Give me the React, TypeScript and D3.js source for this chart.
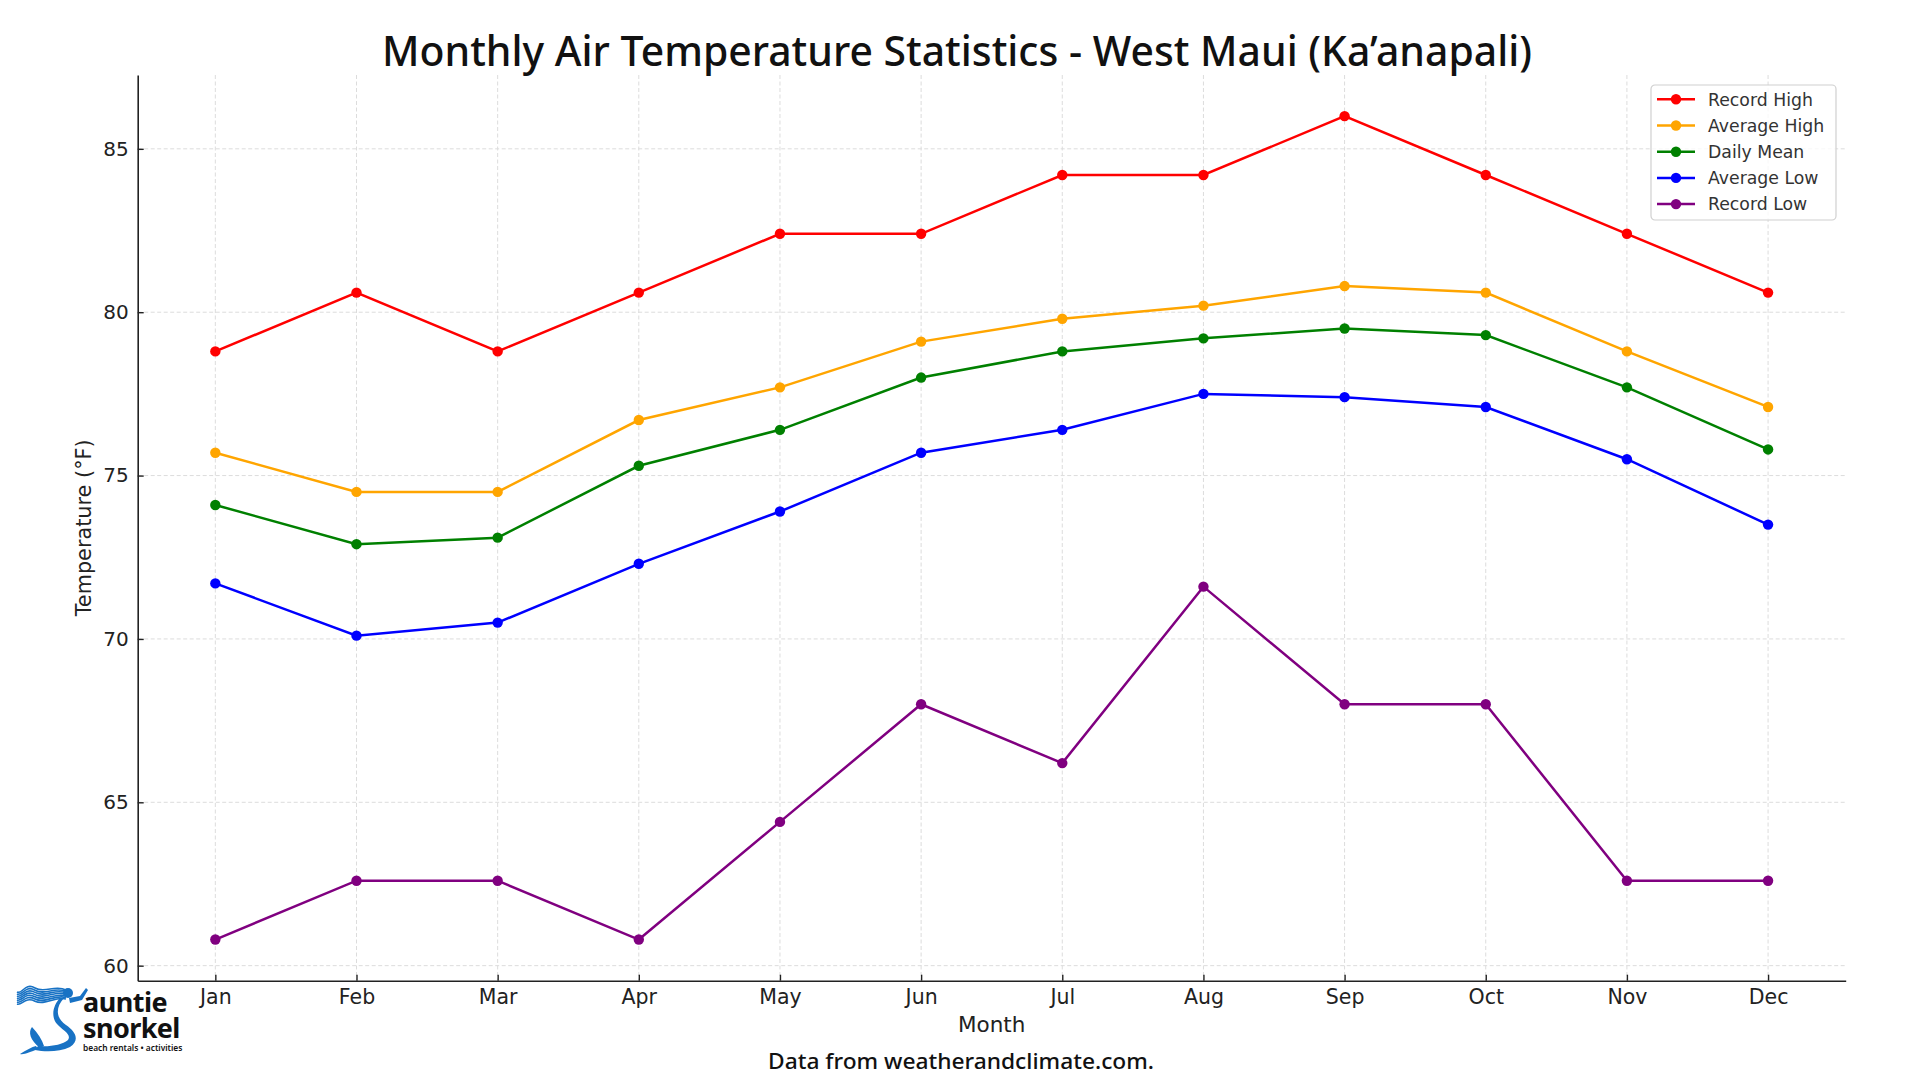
import * as d3 from 'd3'
import { useEffect, useRef } from 'react'

// monthly values in °F
const months = ['Jan', 'Feb', 'Mar', 'Apr', 'May', 'Jun', 'Jul', 'Aug', 'Sep', 'Oct', 'Nov', 'Dec']
const recordHigh = [78.8, 80.6, 78.8, 80.6, 82.4, 82.4, 84.2, 84.2, 86.0, 84.2, 82.4, 80.6]
const averageHigh = [75.7, 74.5, 74.5, 76.7, 77.7, 79.1, 79.8, 80.2, 80.8, 80.6, 78.8, 77.1]
const dailyMean = [74.1, 72.9, 73.1, 75.3, 76.4, 78.0, 78.8, 79.2, 79.5, 79.3, 77.7, 75.8]
const averageLow = [71.7, 70.1, 70.5, 72.3, 73.9, 75.7, 76.4, 77.5, 77.4, 77.1, 75.5, 73.5]
const recordLow = [60.8, 62.6, 62.6, 60.8, 64.4, 68.0, 66.2, 71.6, 68.0, 68.0, 62.6, 62.6]
const yTicks = [60, 65, 70, 75, 80, 85]
const seriesNames = ['Record High', 'Average High', 'Daily Mean', 'Average Low', 'Record Low']

const colors = ['#ff0000', '#ffa500', '#008000', '#0000ff', '#800080']

const width = 1920
const height = 1080
const margin = { top: 75, left: 137.7, right: 74.3, bottom: 99.3 }
const tickFont = 'DejaVu Sans, sans-serif'

const App = () => {
  const svgRef = useRef<SVGSVGElement>(null)

  useEffect(() => {
    const svg = d3.select(svgRef.current)
    svg.selectAll('*').remove()

    const series = [recordHigh, averageHigh, dailyMean, averageLow, recordLow].map((values, i) => ({
      name: seriesNames[i],
      values,
      color: colors[i],
    }))

    const all = series.flatMap((s) => s.values)
    const [minV, maxV] = d3.extent(all) as number[]
    const pad = (maxV - minV) * 0.05

    // matplotlib style 5% margins
    const xScale = d3
      .scaleLinear()
      .domain([-0.55, months.length - 1 + 0.55])
      .range([margin.left, width - margin.right])
    const yScale = d3
      .scaleLinear()
      .domain([minV - pad, maxV + pad])
      .range([height - margin.bottom, margin.top])

    const plotLeft = margin.left
    const plotRight = width - margin.right
    const plotTop = margin.top
    const plotBottom = height - margin.bottom

    // grid
    const grid = svg
      .append('g')
      .attr('stroke', '#dcdcdc')
      .attr('stroke-width', 1)
      .attr('stroke-dasharray', '4,2.5')
    grid
      .selectAll('.gx')
      .data(months.map((_, i) => i))
      .enter()
      .append('line')
      .attr('x1', (d) => xScale(d))
      .attr('x2', (d) => xScale(d))
      .attr('y1', plotTop)
      .attr('y2', plotBottom)
    grid
      .selectAll('.gy')
      .data(yTicks)
      .enter()
      .append('line')
      .attr('x1', plotLeft)
      .attr('x2', plotRight)
      .attr('y1', (d) => yScale(d))
      .attr('y2', (d) => yScale(d))

    // X axis
    const xAxis = d3
      .axisBottom(xScale)
      .tickValues(months.map((_, i) => i))
      .tickFormat((d) => months[d as number])
      .tickSizeInner(-6)
      .tickSizeOuter(0)
      .tickPadding(9)
    const gx = svg.append('g').attr('transform', `translate(0, ${plotBottom})`).call(xAxis)
    gx.select('.domain').attr('stroke', '#222').attr('stroke-width', 1.6)
    gx.selectAll('.tick line').attr('stroke', '#222').attr('stroke-width', 1.4)
    gx.selectAll('.tick text')
      .attr('font-family', tickFont)
      .attr('font-size', 20.5)
      .attr('fill', '#222')

    // Y axis
    const yAxis = d3.axisLeft(yScale).tickValues(yTicks).tickSizeInner(-6).tickSizeOuter(0).tickPadding(9)
    const gy = svg.append('g').attr('transform', `translate(${plotLeft}, 0)`).call(yAxis)
    gy.select('.domain').attr('stroke', '#222').attr('stroke-width', 1.6)
    gy.selectAll('.tick line').attr('stroke', '#222').attr('stroke-width', 1.4)
    gy.selectAll('.tick text')
      .attr('font-family', tickFont)
      .attr('font-size', 20)
      .attr('fill', '#222')

    // lines + markers
    const line = d3
      .line<number>()
      .x((_, i) => xScale(i))
      .y((d) => yScale(d))

    series.forEach((s) => {
      svg
        .append('path')
        .datum(s.values)
        .attr('d', line)
        .attr('fill', 'none')
        .attr('stroke', s.color)
        .attr('stroke-width', 2.5)
      svg
        .append('g')
        .selectAll('circle')
        .data(s.values)
        .enter()
        .append('circle')
        .attr('cx', (_, i) => xScale(i))
        .attr('cy', (d) => yScale(d))
        .attr('r', 5.2)
        .attr('fill', s.color)
    })

    // titles
    svg
      .append('text')
      .attr('x', 957)
      .attr('y', 66)
      .attr('text-anchor', 'middle')
      .attr('font-family', 'Noto Sans, sans-serif')
      .attr('font-weight', 500)
      .attr('font-size', 42)
      .attr('textLength', 1150)
      .attr('lengthAdjust', 'spacingAndGlyphs')
      .attr('fill', '#111')
      .text('Monthly Air Temperature Statistics - West Maui (Ka’anapali)')

    svg
      .append('text')
      .attr('x', (plotLeft + plotRight) / 2)
      .attr('y', 1032)
      .attr('text-anchor', 'middle')
      .attr('font-family', tickFont)
      .attr('font-size', 21.5)
      .attr('fill', '#222')
      .text('Month')

    svg
      .append('text')
      .attr('transform', `translate(91, ${(plotTop + plotBottom) / 2}) rotate(-90)`)
      .attr('text-anchor', 'middle')
      .attr('font-family', tickFont)
      .attr('font-size', 20.8)
      .attr('fill', '#222')
      .text('Temperature (°F)')

    svg
      .append('text')
      .attr('x', 961)
      .attr('y', 1069)
      .attr('text-anchor', 'middle')
      .attr('font-family', 'Noto Sans, sans-serif')
      .attr('font-weight', 500)
      .attr('font-size', 22)
      .attr('textLength', 386)
      .attr('lengthAdjust', 'spacingAndGlyphs')
      .attr('fill', '#111')
      .text('Data from weatherandclimate.com.')

    // legend
    const legend = svg.append('g').attr('transform', 'translate(1651, 85)')
    legend
      .append('rect')
      .attr('width', 185)
      .attr('height', 135)
      .attr('rx', 4)
      .attr('fill', 'white')
      .attr('fill-opacity', 0.8)
      .attr('stroke', '#d0d0d0')
      .attr('stroke-width', 1.2)
    series.forEach((s, i) => {
      const ly = 14.3 + i * 26.2
      legend
        .append('line')
        .attr('x1', 6)
        .attr('x2', 44)
        .attr('y1', ly)
        .attr('y2', ly)
        .attr('stroke', s.color)
        .attr('stroke-width', 2.5)
      legend.append('circle').attr('cx', 25).attr('cy', ly).attr('r', 5.2).attr('fill', s.color)
      legend
        .append('text')
        .attr('x', 57)
        .attr('y', ly)
        .attr('dy', '0.36em')
        .attr('font-family', tickFont)
        .attr('font-size', 17.3)
        .attr('fill', '#333')
        .text(s.name)
    })

    // logo
    const logo = svg.append('g')
    const blue = '#1872c4'
    // hair strands
    d3.range(7).forEach((k) => {
      logo
        .append('path')
        .attr(
          'd',
          `M66,${990 + k * 1.5} C55,${984 + k * 2} 45,${994 + k * 2} 35,${988 + k * 2.2} S22,${995 + k * 1.8} 17,${992 + k * 2}`
        )
        .attr('fill', 'none')
        .attr('stroke', blue)
        .attr('stroke-width', 1.6)
    })
    logo.append('circle').attr('cx', 68).attr('cy', 993).attr('r', 5).attr('fill', blue)
    logo
      .append('path')
      .attr('d', 'M69,998 L80,996 L86,988 L88,990 L82,1000 L70,1003 Z')
      .attr('fill', blue)
    logo
      .append('path')
      .attr('d', 'M64,998 C55,1008 56,1018 66,1025 C76,1032 80,1040 70,1047 C60,1052 45,1052 35,1050 L38,1046 C50,1047 62,1045 68,1040 C72,1034 62,1030 57,1024 C50,1016 54,1004 60,998 Z')
      .attr('fill', blue)
    logo
      .append('path')
      .attr('d', 'M40,1048 C30,1040 28,1032 32,1027 C38,1033 42,1040 44,1046 Z M38,1049 C30,1052 24,1055 20,1054 C26,1050 32,1047 36,1046 Z')
      .attr('fill', blue)
    // the wordmark is one text block, lines stacked tightly like the original logo
    const mark = logo
      .append('text')
      .attr('font-family', 'Noto Sans, sans-serif')
      .attr('font-weight', 700)
      .attr('fill', '#111')
    mark.append('tspan').attr('x', 83).attr('y', 1012).attr('font-size', 27).attr('letter-spacing', -0.5).text('auntie')
    mark.append('tspan').attr('x', 83).attr('y', 1038).attr('font-size', 27).attr('letter-spacing', -0.6).text('snorkel')
    mark
      .append('tspan')
      .attr('x', 83)
      .attr('y', 1051)
      .attr('font-size', 8.4)
      .attr('font-weight', 600)
      .text('beach rentals • activities')
  }, [])

  return (
    <div style={{ position: 'absolute', left: 0, top: 0, width, height, background: 'white' }}>
      <svg ref={svgRef} width={width} height={height} style={{ display: 'block' }} />
    </div>
  )
}

export default App
